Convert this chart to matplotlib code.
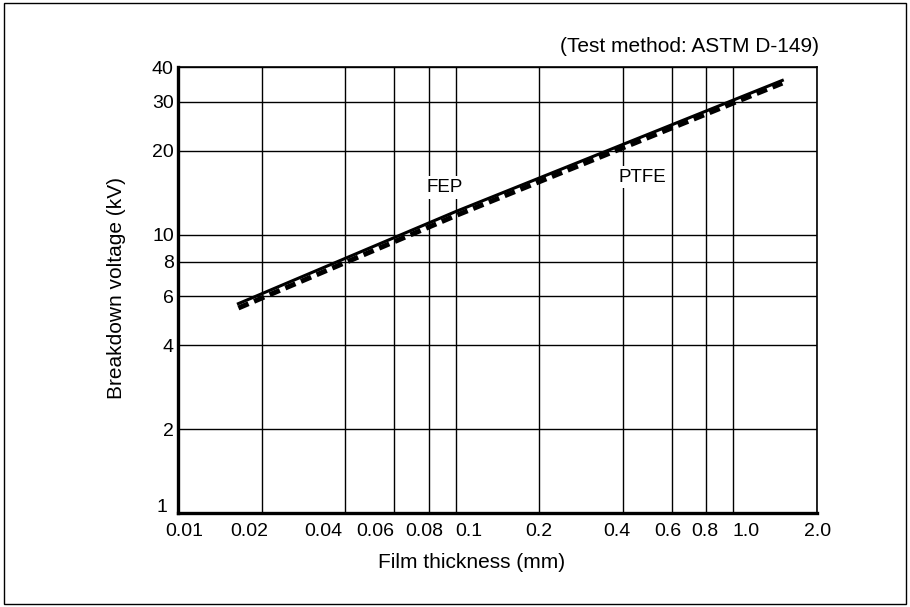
import matplotlib.pyplot as plt
from matplotlib.patches import Rectangle
from matplotlib.ticker import FixedLocator, FixedFormatter, NullLocator
from matplotlib.transforms import ScaledTranslation

plt.rcParams["font.family"] = ["Liberation Sans", "DejaVu Sans"]

# --- data ---
fep_thickness  = [0.0165, 0.1, 1.5]     # mm
fep_voltage    = [5.65, 12.1, 35.8]     # kV
ptfe_thickness = [0.0165, 0.1, 1.5]
ptfe_voltage   = [5.45, 11.7, 35.0]

x_ticks  = [0.01, 0.02, 0.04, 0.06, 0.08, 0.1, 0.2, 0.4, 0.6, 0.8, 1.0, 2.0]
x_labels = ["0.01", "0.02", "0.04", "0.06", "0.08", "0.1", "0.2", "0.4", "0.6", "0.8", "1.0", "2.0"]
y_ticks  = [1, 2, 4, 6, 8, 10, 20, 30, 40]
y_labels = ["1", "2", "4", "6", "8", "10", "20", "30", "40"]

W, H = 910, 607
fig = plt.figure(figsize=(W / 100, H / 100), dpi=100)
ax = fig.add_axes([178 / W, 1 - 513 / H, 639 / W, 446 / H])

ax.set_xscale("log")
ax.set_yscale("log")
ax.set_xlim(0.01, 2.0)
ax.set_ylim(1, 40)

ax.xaxis.set_major_locator(FixedLocator(x_ticks))
ax.xaxis.set_major_formatter(FixedFormatter(x_labels))
ax.xaxis.set_minor_locator(NullLocator())
ax.yaxis.set_major_locator(FixedLocator(y_ticks))
ax.yaxis.set_major_formatter(FixedFormatter(y_labels))
ax.yaxis.set_minor_locator(NullLocator())
ax.tick_params(length=0, labelsize=14, colors="black")
ax.tick_params(axis="x", pad=7)
ax.tick_params(axis="y", pad=3)


def shift(label, dx, dy=0):
    label.set_transform(label.get_transform() + ScaledTranslation(dx / 100, dy / 100, fig.dpi_scale_trans))


# the printed chart slides the crowded x labels sideways (pixels)
x_nudge = [6, -12, -22, -19, -5, 13, 0, -6, -4, -2, 13, 1]
for tick, dx in zip(ax.xaxis.get_major_ticks(), x_nudge):
    shift(tick.label1, dx)
shift(ax.yaxis.get_major_ticks()[0].label1, -6, 7)

ax.grid(True, color="black", lw=1.0)
ax.set_axisbelow(True)

for side in ("left", "bottom"):
    ax.spines[side].set_linewidth(2.4)
for side in ("top", "right"):
    ax.spines[side].set_linewidth(1.2)

ax.plot(ptfe_thickness, ptfe_voltage, color="black", lw=3.6, ls=(0, (2.2, 1.2)),
        solid_capstyle="butt", zorder=3)
ax.plot(fep_thickness, fep_voltage, color="black", lw=2.2, zorder=4)

box = dict(facecolor="white", edgecolor="none", pad=2)
ax.text(0.091, 14.8, "FEP", fontsize=13.5, ha="center", va="center", bbox=box, zorder=5)
ax.text(0.47, 16.1, "PTFE", fontsize=13.5, ha="center", va="center", bbox=box, zorder=5)

fig.text(472 / W, 1 - 562 / H, "Film thickness (mm)", fontsize=15, ha="center", va="center")
fig.text(117 / W, 1 - 288 / H, "Breakdown voltage (kV)", fontsize=15, rotation=90,
         ha="center", va="center")
fig.text(819 / W, 1 - 46 / H, "(Test method: ASTM D-149)", fontsize=15, ha="right", va="center")

fig.patches.append(Rectangle((0.004, 0.005), 0.992, 0.99, transform=fig.transFigure,
                             fill=False, edgecolor="black", lw=1.0))

fig.savefig("out.png", dpi=100)
